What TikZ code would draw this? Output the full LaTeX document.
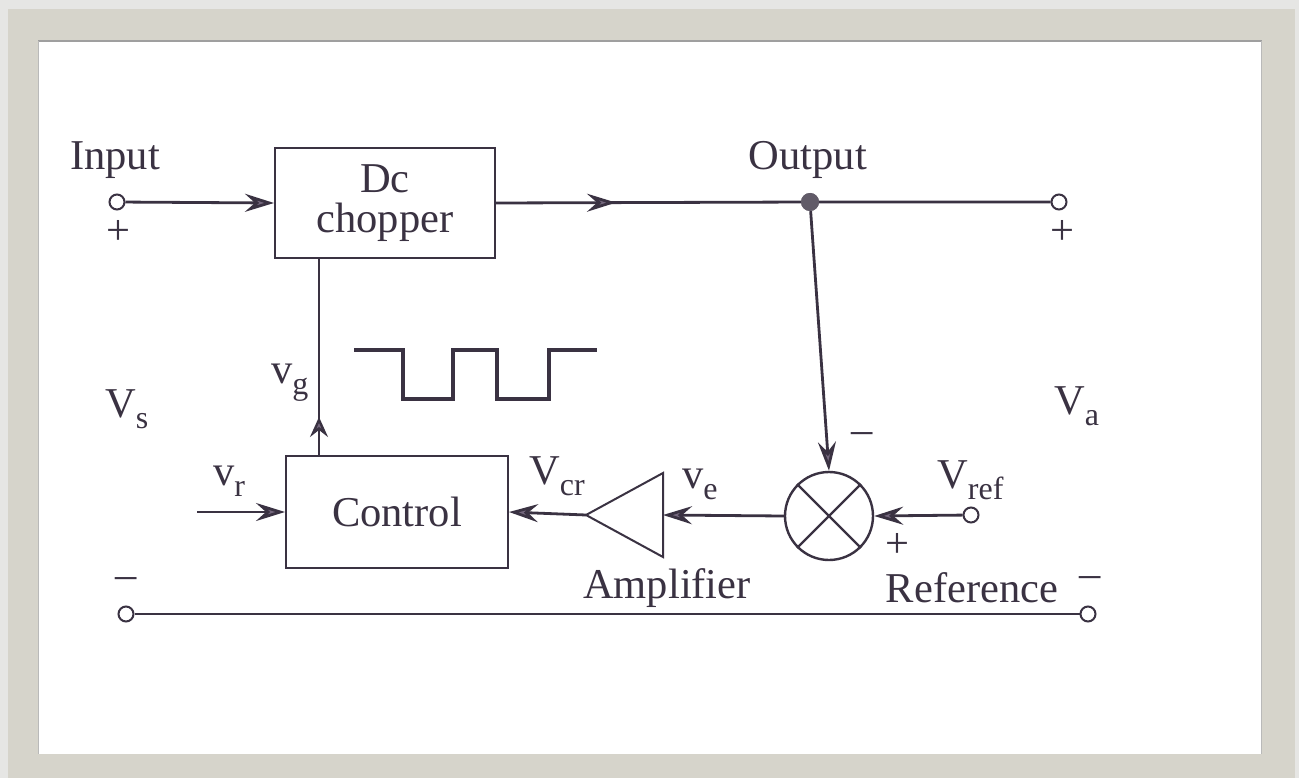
\documentclass[tikz,border=0pt]{standalone}
\usepackage{fontspec}
\setmainfont{Liberation Serif}
\usetikzlibrary{arrows.meta,decorations.markings}
\definecolor{ink}{HTML}{3A3242}
\definecolor{tipc}{HTML}{75687E}
\definecolor{framec}{HTML}{D6D4CB}
\definecolor{shadec}{HTML}{E6E6E4}
\newcommand\lab[2]{#1\raisebox{-11pt}{\fontsize{32}{33}\selectfont #2}}
\begin{document}
\begin{tikzpicture}[x=1pt,y=-1pt,
  font=\fontsize{42.5}{46}\selectfont,
  every node/.style={text=ink},
  tip/.style={-{Stealth[length=29pt,width=18pt,inset=10pt,fill=tipc]}},
  sig/.style={draw=ink,line width=2.8pt},
  thinline/.style={draw=ink,line width=2pt},
  blockbox/.style={draw=ink,line width=2pt,rectangle,inner sep=0pt,align=center},
  term/.style={draw=ink,line width=2pt,circle,fill=white,minimum size=15pt,inner sep=0pt},
  midarrow/.style 2 args={postaction={decorate,decoration={markings,
     mark=at position #1 with {\arrow{Stealth[length=#2,width=18pt,inset=#2*0.35,fill=tipc]}}}}}
]
% frame
\useasboundingbox (0,0) rectangle (1299,778);
\fill[shadec] (0,0) rectangle (1299,778);
\fill[framec] (8,9) rectangle (1295,778);
\fill[white] (38,40) rectangle (1262,754);
\draw[gray!75,line width=2pt] (38,41) -- (1262,41);
\draw[gray!55,line width=1pt] (38.5,41) -- (38.5,754) (1261.5,41) -- (1261.5,754);

% blocks
\node[blockbox,minimum width=220pt,minimum height=110pt] (chop) at (385,203) {\raisebox{-4pt}{Dc}\\[-2pt]chopper};
\node[blockbox,minimum width=222pt,minimum height=112pt] (ctrl) at (397,512) {Control};
\node[draw=ink,line width=2.4pt,circle,minimum size=88pt,inner sep=0pt] (sum) at (829,516) {};
\draw[ink,line width=2.4pt] (sum.north west) -- (sum.south east) (sum.north east) -- (sum.south west);
\coordinate (ampout) at (586,515);
\coordinate (ampin) at (663,515);
\draw[thinline,line join=miter] (663,473) -- (663,557) -- (ampout) -- cycle;

% terminals
\node[term] (inT) at (117,202) {};
\node[term] (outT) at (1059,202) {};
\node[term] (refT) at (971,515) {};
\node[term] (gl) at (126,614) {};
\node[term] (gr) at (1088,614) {};
\node[circle,fill=ink!80,minimum size=18pt,inner sep=0pt] (dot) at (810,202) {};
\coordinate (vrS) at (197,512);

% connectors
\draw[sig,tip] (inT) -- (chop.west);
\draw[sig,midarrow={120pt}{29pt}] (chop.east) -- (dot) -- (outT);
\draw[sig,tip] (dot) -- (sum.north);
\draw[sig,tip] (refT) -- (sum.east);
\draw[sig,tip] (sum.west) -- (ampin);
\draw[sig,tip] (ampout) -- (ctrl.east);
\draw[sig,tip] (vrS) -- (ctrl.west);
\draw[draw=ink,line width=2.4pt,midarrow={38pt}{20pt}] ([xshift=34pt]ctrl.north west) -- ([xshift=45pt]chop.south west);
\draw[thinline] (gl) -- (gr);
\node[circle,fill=ink!80,minimum size=18pt,inner sep=0pt] at (dot) {};

% square wave
\draw[ink,line width=4pt,line join=miter] (354,350) -- (403,350) -- (403,399) -- (453,399) -- (453,350)
  -- (497,350) -- (497,399) -- (549,399) -- (549,350) -- (597,350);

% labels
\node (tin) at (115,160) {Input};
\node (tp1) at (118,232) {+};
\node (tout) at (808,160) {Output};
\node (tp2) at (1062,232) {+};
\node[anchor=base west,inner sep=0pt] (tvs) at (105,417) {\lab{V}{s}};
\node[anchor=base west,inner sep=0pt] (tvg) at (271,383) {\lab{v}{g}};
\node[anchor=base west,inner sep=0pt] (tva) at (1054,414) {\lab{V}{a}};
\node[anchor=base west,inner sep=0pt] (tvr) at (213,485) {\lab{v}{r}};
\node[anchor=base west,inner sep=0pt] (tvcr) at (529,484) {\lab{V}{cr}};
\node[anchor=base west,inner sep=0pt] (tve) at (682,488) {\lab{v}{e}};
\node[anchor=base west,inner sep=0pt] (tvref) at (937,488) {\lab{V}{ref}};
\node (tm1) at (862,438) {–};
\node (tp3) at (897,545) {+};
\node (tamp) at (667,588) {Amplifier};
\node (tref) at (972,588) {Reference};
\node (tm2) at (1090,582) {–};
\node (tm3) at (126,583) {–};
\end{tikzpicture}
\end{document}
